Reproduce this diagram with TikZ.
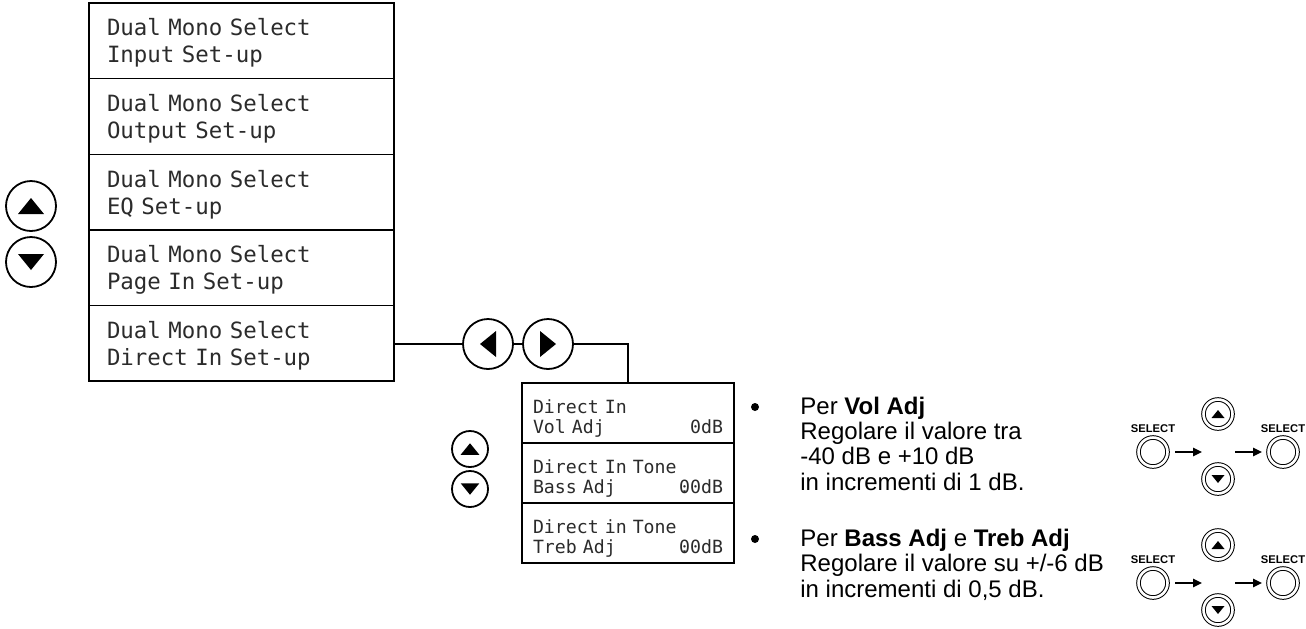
\documentclass[tikz,border=0pt]{standalone}
\usepackage{fontspec}
\setmainfont{Liberation Sans}
\newfontfamily\lcdfont{DejaVu Sans Mono}
\usetikzlibrary{arrows.meta,positioning}
\definecolor{lcd}{HTML}{2B2B2B}

\begin{document}
\begin{tikzpicture}[x=0.5pt,y=-0.5pt,
    menurow/.style={draw,line width=0.7pt,outer sep=0pt,inner xsep=9pt,inner ysep=0pt,
                minimum height=37.8pt,text width=134.5pt,align=left,
                font=\lcdfont\fontsize{11.2}{13.5}\selectfont,text=lcd,
                execute at begin node={\rule{0pt}{11pt}}},
    subrow/.style={draw,line width=0.7pt,outer sep=0pt,inner xsep=5.5pt,inner ysep=0pt,
                minimum height=30pt,text width=95pt,align=left,
                font=\lcdfont\fontsize{9.1}{10}\selectfont,text=lcd,
                execute at begin node={\rule{0pt}{12pt}}},
    btn/.style={circle,draw,line width=0.9pt,inner sep=0pt,minimum size=25pt},
    smallbtn/.style={btn,minimum size=18pt},
    selbtn/.style={circle,draw,double,line width=0.5pt,double distance=1.3pt,
                inner sep=0pt,minimum size=14.5pt},
    triup/.style={path picture={\fill ([yshift=#1*4pt]path picture bounding box.center)
                -- ++(-#1*6.5pt,-#1*8pt) -- ++(#1*13pt,0pt) -- cycle;}},
    tridn/.style={path picture={\fill ([yshift=-#1*4pt]path picture bounding box.center)
                -- ++(-#1*6.5pt,#1*8pt) -- ++(#1*13pt,0pt) -- cycle;}},
    trilt/.style={path picture={\fill ([xshift=-#1*4pt]path picture bounding box.center)
                -- ++(#1*8pt,#1*6.5pt) -- ++(0pt,-#1*13pt) -- cycle;}},
    trirt/.style={path picture={\fill ([xshift=#1*4pt]path picture bounding box.center)
                -- ++(-#1*8pt,#1*6.5pt) -- ++(0pt,-#1*13pt) -- cycle;}},
    seltext/.style={font=\bfseries\fontsize{5.6}{6}\selectfont,inner sep=0pt},
    selarr/.style={-{Triangle[length=4.5pt,width=4.2pt]},line width=0.8pt},
    note/.style={align=left,font=\fontsize{12}{12.65}\selectfont,inner sep=0pt},
    dot/.style={circle,fill,inner sep=0pt,minimum size=4pt}]
  \useasboundingbox (0,0) rectangle (1306,628);
  % --- menu principale
  \node[menurow] (m1) at (241.5,40.8) {Dual Mono Select\\Input Set-up};
  \node[menurow,below=0pt of m1] (m2) {Dual Mono Select\\Output Set-up};
  \node[menurow,below=0pt of m2] (m3) {Dual Mono Select\\EQ Set-up};
  \node[menurow,below=0pt of m3] (m4) {Dual Mono Select\\Page In Set-up};
  \node[menurow,below=0pt of m4] (m5) {Dual Mono Select\\Direct In Set-up};
  % tasti su/giu
  \node[btn,triup=1] (su) at (31,206) {};
  \node[btn,tridn=1] (giu) at (31,262) {};
  % --- tasti sinistra/destra e sottomenu
  \node[btn,trilt=1] (sx) at (488,344) {};
  \node[btn,trirt=1] (dx) at (548,344) {};
  \node[subrow] (d1) at (628,413) {Direct In\\Vol Adj\hfill 0dB};
  \node[subrow,below=0pt of d1] (d2) {Direct In Tone\\Bass Adj\hfill\rlap{0}.0dB};
  \node[subrow,below=0pt of d2] (d3) {Direct in Tone\\Treb Adj\hfill\rlap{0}.0dB};
  \draw[line width=0.7pt] (sx.west -| m5.east) -- (sx);
  \draw[line width=0.7pt] (sx) -- (dx);
  \draw[line width=0.7pt] (dx) -| (d1);
  \node[smallbtn,triup=0.72] (su2) at (470,449) {};
  \node[smallbtn,tridn=0.72] (giu2) at (470,489) {};
  % --- note
  \node[dot] (b1) at (755,407) {};
  \node[note,anchor=base west] (n1) at (800,490)
    {Per \textbf{Vol Adj}\\Regolare il valore tra\\-40 dB e +10 dB\\in incrementi di 1 dB.};
  \node[dot] (b2) at (755,539) {};
  \node[note,anchor=base west] (n2) at (800,597)
    {Per \textbf{Bass Adj} e \textbf{Treb Adj}\\Regolare il valore su +/-6 dB\\in incrementi di 0,5 dB.};
  % --- SELECT -> su/giu -> SELECT
  \node[selbtn] (sel1) at (1153,452) {};
  \node[seltext,above=2pt of sel1] (lab1) {SELECT};
  \node[selbtn,triup=0.5] (su3) at (1218,414) {};
  \node[selbtn,tridn=0.5] (giu3) at (1218,479) {};
  \node[selbtn] (sel2) at (1283,452) {};
  \node[seltext,above=2pt of sel2] (lab2) {SELECT};
  \coordinate (c1) at (1218,452);
  \draw[selarr,shorten <=3.5pt,shorten >=8pt] (sel1) -- (c1);
  \draw[selarr,shorten <=8.5pt,shorten >=3pt] (c1) -- (sel2);
  \node[selbtn] (sel3) at (1153,583) {};
  \node[seltext,above=2pt of sel3] (lab3) {SELECT};
  \node[selbtn,triup=0.5] (su4) at (1218,545) {};
  \node[selbtn,tridn=0.5] (giu4) at (1218,610) {};
  \node[selbtn] (sel4) at (1283,583) {};
  \node[seltext,above=2pt of sel4] (lab4) {SELECT};
  \coordinate (c2) at (1218,583);
  \draw[selarr,shorten <=3.5pt,shorten >=8pt] (sel3) -- (c2);
  \draw[selarr,shorten <=8.5pt,shorten >=3pt] (c2) -- (sel4);
\end{tikzpicture}
\end{document}
